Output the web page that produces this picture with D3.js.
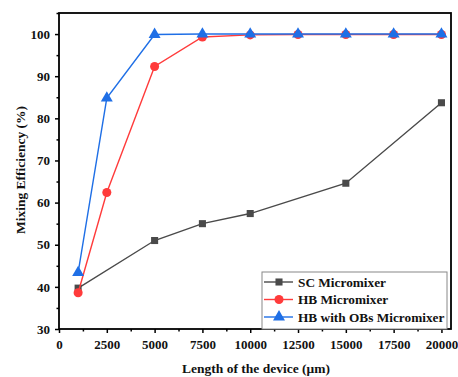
<!DOCTYPE html>
<html>
<head>
<meta charset="utf-8">
<script src="https://cdn.jsdelivr.net/npm/d3@7"></script>
<style>
  html, body { margin: 0; padding: 0; background: #fff; }
  svg { display: block; }
  text { font-family: "Liberation Serif", "Times New Roman", serif; font-weight: bold; fill: #111; }
</style>
</head>
<body>
<svg id="chart" width="458" height="377"></svg>
<script>
// Device lengths (µm) and mixing efficiencies (%)
const scLength = [1000, 5000, 7500, 10000, 15000, 20000];
const scEff    = [39.7, 51.0, 55.0, 57.4, 64.6, 83.7];

const hbLength = [1000, 2500, 5000, 7500, 10000, 12500, 15000, 17500, 20000];
const hbEff    = [38.6, 62.4, 92.3, 99.3, 99.8, 99.9, 99.9, 99.9, 99.9];

const obLength = [1000, 2500, 5000, 7500, 10000, 12500, 15000, 17500, 20000];
const obEff    = [43.4, 84.8, 99.9, 100, 100, 100, 100, 100, 100];

const xTicks = [0, 2500, 5000, 7500, 10000, 12500, 15000, 17500, 20000];
const yTicks = [30, 40, 50, 60, 70, 80, 90, 100];
const seriesNames = ["SC Micromixer", "HB Micromixer", "HB with OBs Micromixer"];

const svg = d3.select("#chart");
const plotL = 59, plotT = 13, plotR = 451, plotB = 329;

const x = d3.scaleLinear().domain([0, 20500]).range([plotL, plotR]);
const y = d3.scaleLinear().domain([30, 105]).range([plotB, plotT]);

// Axes with outward major and minor ticks
const xAxis = d3.axisBottom(x).tickValues(xTicks).tickFormat(d3.format("d")).tickSize(4).tickPadding(7);
const xMinor = d3.axisBottom(x).tickValues(xTicks.slice(0, -1).map(d => d + 1250)).tickFormat("").tickSize(2.5);
const yAxis = d3.axisLeft(y).tickValues(yTicks).tickFormat(d3.format("d")).tickSize(4).tickPadding(5);
const yMinor = d3.axisLeft(y).tickValues(yTicks.map(d => d + 5)).tickFormat("").tickSize(2.5);

function styleAxis(g) {
  g.select(".domain").remove();
  g.selectAll("line").attr("stroke", "#000").attr("stroke-width", 1.5);
  g.selectAll("text").attr("font-size", 13).attr("fill", "#111");
}

svg.append("g").attr("transform", `translate(0,${plotB})`).call(xAxis).call(styleAxis);
svg.append("g").attr("transform", `translate(0,${plotB})`).call(xMinor).call(styleAxis);
svg.append("g").attr("transform", `translate(${plotL},0)`).call(yAxis).call(styleAxis);
svg.append("g").attr("transform", `translate(${plotL},0)`).call(yMinor).call(styleAxis);

// Plot frame
svg.append("rect")
  .attr("x", plotL).attr("y", plotT)
  .attr("width", plotR - plotL).attr("height", plotB - plotT)
  .attr("fill", "none").attr("stroke", "#000").attr("stroke-width", 1.8);

// Axis titles
svg.append("text")
  .attr("x", 256).attr("y", 373)
  .attr("text-anchor", "middle").attr("font-size", 13.5)
  .text("Length of the device (\u03bcm)");
svg.append("text")
  .attr("transform", "translate(25,170) rotate(-90)")
  .attr("text-anchor", "middle").attr("font-size", 13.5)
  .text("Mixing Efficiency (%)");

const line = d3.line().x(d => x(d[0])).y(d => y(d[1]));

const series = [
  { name: seriesNames[0], xs: scLength, ys: scEff, color: "#4a4a4a", marker: d3.symbolSquare, size: 50 },
  { name: seriesNames[1], xs: hbLength, ys: hbEff, color: "#ff3b3b", marker: d3.symbolCircle, size: 64 },
  { name: seriesNames[2], xs: obLength, ys: obEff, color: "#1f6fe6", marker: d3.symbolTriangle, size: 62 }
];

series.forEach(s => {
  const pts = s.xs.map((v, i) => [v, s.ys[i]]);
  svg.append("path").datum(pts)
    .attr("d", line).attr("fill", "none")
    .attr("stroke", s.color).attr("stroke-width", 1.4);
  svg.append("g").selectAll("path").data(pts).join("path")
    .attr("transform", d => `translate(${x(d[0])},${y(d[1])})`)
    .attr("d", d3.symbol().type(s.marker).size(s.size))
    .attr("fill", s.color);
});

// Legend
const lg = svg.append("g");
lg.append("rect")
  .attr("x", 262).attr("y", 272).attr("width", 185).attr("height", 57)
  .attr("fill", "#fff").attr("stroke", "#888").attr("stroke-width", 1);
series.forEach((s, i) => {
  const ly = 282 + i * 17.5;
  lg.append("line").attr("x1", 264).attr("x2", 293).attr("y1", ly).attr("y2", ly)
    .attr("stroke", s.color).attr("stroke-width", 1.4);
  lg.append("path").attr("transform", `translate(279,${ly})`)
    .attr("d", d3.symbol().type(s.marker).size(s.size)).attr("fill", s.color);
  lg.append("text").attr("x", 298).attr("y", ly + 4.5)
    .attr("font-size", 13.3).text(s.name);
});
</script>
</body>
</html>
